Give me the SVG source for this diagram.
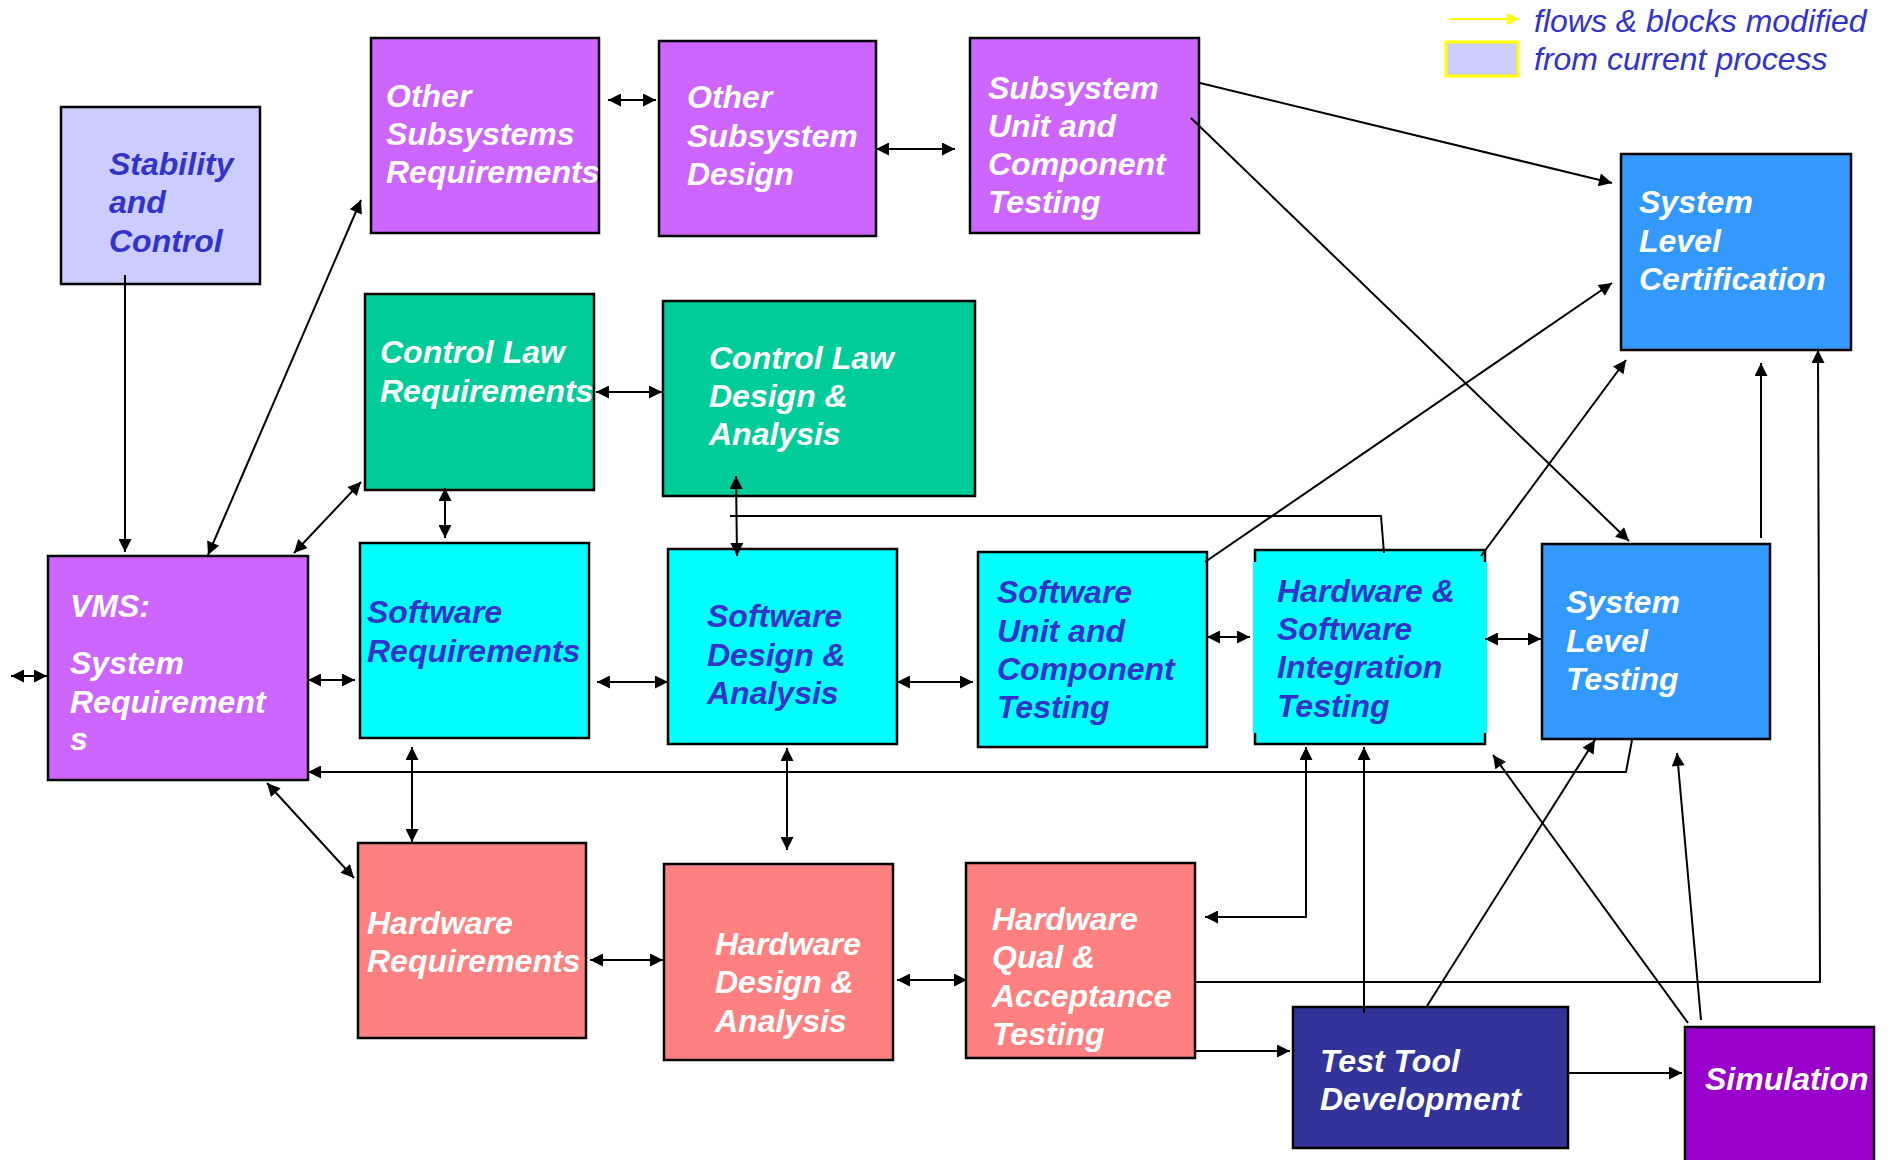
<svg xmlns="http://www.w3.org/2000/svg" width="1891" height="1160" viewBox="0 0 1891 1160">
<defs>
<marker id="ah" viewBox="0 0 10 10" refX="10" refY="5" markerWidth="16" markerHeight="13" markerUnits="userSpaceOnUse" orient="auto-start-reverse"><path d="M0,0 L10,5 L0,10 z" fill="#000"/></marker>
<marker id="ahy" viewBox="0 0 10 10" refX="10" refY="5" markerWidth="14" markerHeight="12" markerUnits="userSpaceOnUse" orient="auto"><path d="M0,0 L10,5 L0,10 z" fill="#FFFF00"/></marker>
</defs>
<style>
.box{stroke:#000;stroke-width:2.5}
.t{font-family:"Liberation Sans",Arial,sans-serif;font-size:32px;font-weight:bold;font-style:italic}
.w{fill:#fff}
.b{fill:#3333CC}
.c{fill:none;stroke:#000;stroke-width:2}
.a1{marker-end:url(#ah)}
.a2{marker-start:url(#ah);marker-end:url(#ah)}
.leg{font-family:"Liberation Sans",Arial,sans-serif;font-size:32px;font-style:italic;fill:#3333CC}
</style>
<rect x="0" y="0" width="1891" height="1160" fill="#fff"/>

<g id="legend">
<line x1="1449" y1="19" x2="1519" y2="19" stroke="#FFFF00" stroke-width="2" marker-end="url(#ahy)"/>
<rect x="1446" y="42" width="72" height="34" fill="#CCCCFF" stroke="#FFFF00" stroke-width="3"/>
<text class="leg" x="1534" y="32">flows &amp; blocks modified</text>
<text class="leg" x="1534" y="70">from current process</text>
</g>

<g id="stability">
<rect class="box" x="61" y="107" width="199" height="177" fill="#CCCCFF"/>
<text class="t b" x="109"><tspan x="109" y="175">Stability</tspan><tspan x="109" y="213">and</tspan><tspan x="109" y="252">Control</tspan></text>
</g>
<g id="osr">
<rect class="box" x="371" y="38" width="228" height="195" fill="#CC66FF"/>
<text class="t w"><tspan x="386" y="107">Other</tspan><tspan x="386" y="145">Subsystems</tspan><tspan x="386" y="183">Requirements</tspan></text>
</g>
<g id="osd">
<rect class="box" x="659" y="41" width="217" height="195" fill="#CC66FF"/>
<text class="t w"><tspan x="687" y="108">Other</tspan><tspan x="687" y="147">Subsystem</tspan><tspan x="687" y="185">Design</tspan></text>
</g>
<g id="suct">
<rect class="box" x="970" y="38" width="229" height="195" fill="#CC66FF"/>
<text class="t w"><tspan x="988" y="99">Subsystem</tspan><tspan x="988" y="137">Unit and</tspan><tspan x="988" y="175">Component</tspan><tspan x="988" y="213">Testing</tspan></text>
</g>
<g id="slc">
<rect class="box" x="1621" y="154" width="230" height="196" fill="#3399FF"/>
<text class="t w"><tspan x="1639" y="213">System</tspan><tspan x="1639" y="252">Level</tspan><tspan x="1639" y="290">Certification</tspan></text>
</g>
<g id="clr">
<rect class="box" x="365" y="294" width="229" height="196" fill="#00CC99"/>
<text class="t w"><tspan x="380" y="363">Control Law</tspan><tspan x="380" y="402">Requirements</tspan></text>
</g>
<g id="clda">
<rect class="box" x="663" y="301" width="312" height="195" fill="#00CC99"/>
<text class="t w"><tspan x="709" y="369">Control Law</tspan><tspan x="709" y="407">Design &amp;</tspan><tspan x="709" y="445">Analysis</tspan></text>
</g>
<g id="vms">
<rect class="box" x="48" y="556" width="260" height="224" fill="#CC66FF"/>
<text class="t w"><tspan x="70" y="617">VMS:</tspan><tspan x="70" y="674">System</tspan><tspan x="70" y="713">Requirement</tspan><tspan x="70" y="750">s</tspan></text>
</g>
<g id="swr">
<rect class="box" x="360" y="543" width="229" height="195" fill="#00FFFF"/>
<text class="t b"><tspan x="367" y="623">Software</tspan><tspan x="367" y="662">Requirements</tspan></text>
</g>
<g id="swda">
<rect class="box" x="668" y="549" width="229" height="195" fill="#00FFFF"/>
<text class="t b"><tspan x="707" y="627">Software</tspan><tspan x="707" y="666">Design &amp;</tspan><tspan x="707" y="704">Analysis</tspan></text>
</g>
<g id="swuct">
<rect class="box" x="978" y="552" width="229" height="195" fill="#00FFFF"/>
<text class="t b"><tspan x="997" y="603">Software</tspan><tspan x="997" y="642">Unit and</tspan><tspan x="997" y="680">Component</tspan><tspan x="997" y="718">Testing</tspan></text>
</g>
<g id="hwsw">
<rect class="box" x="1255" y="550" width="230" height="194" fill="#00FFFF"/>
<rect x="1253" y="562" width="234" height="171" fill="#00FFFF"/>
<text class="t b"><tspan x="1277" y="602">Hardware &amp;</tspan><tspan x="1277" y="640">Software</tspan><tspan x="1277" y="678">Integration</tspan><tspan x="1277" y="717">Testing</tspan></text>
</g>
<g id="slt">
<rect class="box" x="1542" y="544" width="228" height="195" fill="#3399FF"/>
<text class="t w"><tspan x="1566" y="613">System</tspan><tspan x="1566" y="652">Level</tspan><tspan x="1566" y="690">Testing</tspan></text>
</g>
<g id="hwr">
<rect class="box" x="358" y="843" width="228" height="195" fill="#FF8080"/>
<text class="t w"><tspan x="367" y="934">Hardware</tspan><tspan x="367" y="972">Requirements</tspan></text>
</g>
<g id="hwda">
<rect class="box" x="664" y="864" width="229" height="196" fill="#FF8080"/>
<text class="t w"><tspan x="715" y="955">Hardware</tspan><tspan x="715" y="993">Design &amp;</tspan><tspan x="715" y="1032">Analysis</tspan></text>
</g>
<g id="hwq">
<rect class="box" x="966" y="863" width="229" height="195" fill="#FF8080"/>
<text class="t w"><tspan x="992" y="930">Hardware</tspan><tspan x="992" y="968">Qual &amp;</tspan><tspan x="992" y="1007">Acceptance</tspan><tspan x="992" y="1045">Testing</tspan></text>
</g>
<g id="ttd">
<rect class="box" x="1293" y="1007" width="275" height="141" fill="#333399"/>
<text class="t w"><tspan x="1320" y="1072">Test Tool</tspan><tspan x="1320" y="1110">Development</tspan></text>
</g>
<g id="sim">
<rect class="box" x="1685" y="1027" width="189" height="150" fill="#9900CC"/>
<text class="t w" x="1705" y="1090">Simulation</text>
</g>

<g id="connectors">
<path class="c a1" d="M125,275 V552"/>
<path class="c a2" d="M208,555 L361,200"/>
<path class="c a2" d="M294,553 L361,482"/>
<path class="c a2" d="M608,100 L656,100"/>
<path class="c a2" d="M876,149 L955,149"/>
<path class="c a2" d="M596,392 L662,392"/>
<path class="c a2" d="M445,488 V538"/>
<path class="c a2" d="M736,476 L737,556"/>
<path class="c" d="M730,516 H1381 L1384,553"/>
<path class="c a2" d="M308,680 L355,680"/>
<path class="c a2" d="M597,682 L668,682"/>
<path class="c a2" d="M897,682 L973,682"/>
<path class="c a2" d="M1207,637 L1250,637"/>
<path class="c a2" d="M1485,639 L1541,639"/>
<path class="c a2" d="M11,676 L47,676"/>
<path class="c a1" d="M1205,562 L1612,283"/>
<path class="c a1" d="M1200,83 L1612,183"/>
<path class="c a1" d="M1191,118 L1629,541"/>
<path class="c a1" d="M1481,556 L1626,360"/>
<path class="c a1" d="M1761,538 V363"/>
<path class="c a1" d="M1195,982 H1820 L1818,350"/>
<path class="c a1" d="M1632,740 L1626,772 H308"/>
<path class="c a2" d="M412,747 V842"/>
<path class="c a2" d="M787,748 V850"/>
<path class="c a2" d="M267,783 L354,878"/>
<path class="c a2" d="M590,960 L663,960"/>
<path class="c a2" d="M897,980 L967,980"/>
<path class="c a2" d="M1306,747 V917 H1205"/>
<path class="c a1" d="M1364,1013 V747"/>
<path class="c a1" d="M1195,1051 H1290"/>
<path class="c a1" d="M1568,1073 H1682"/>
<path class="c a1" d="M1427,1006 L1595,740"/>
<path class="c a1" d="M1688,1023 L1493,755"/>
<path class="c a1" d="M1701,1020 L1677,753"/>
</g>
</svg>
